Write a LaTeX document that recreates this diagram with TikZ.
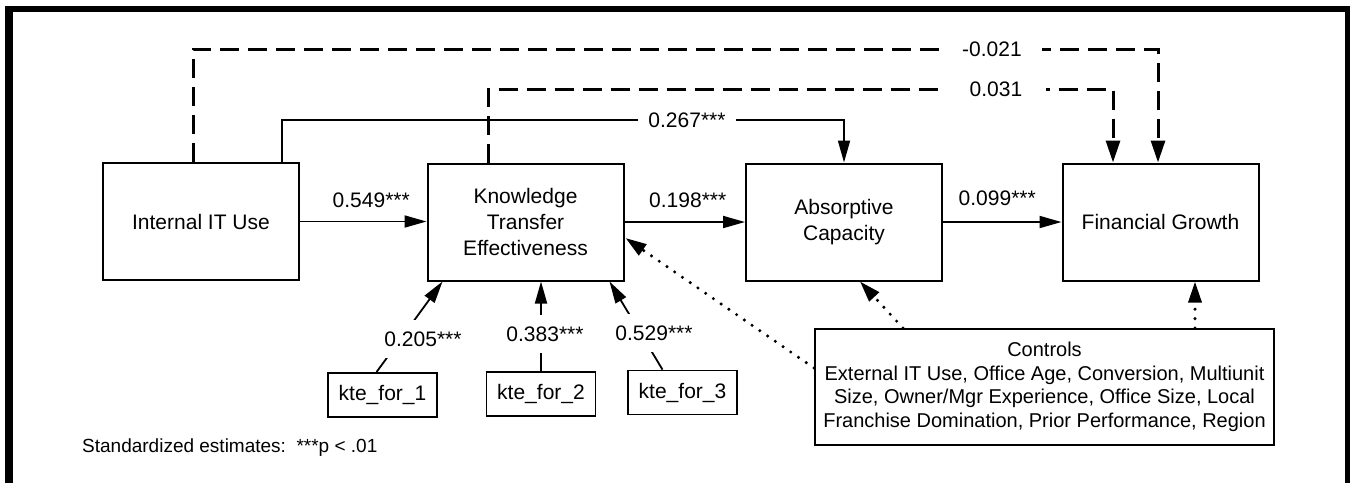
\documentclass[tikz,border=0pt]{standalone}
\usepackage{fontspec}
\setmainfont{Liberation Sans}
\usetikzlibrary{arrows.meta,calc}

\begin{document}
\begin{tikzpicture}[x=1pt,y=-1pt,
  box/.style={draw,line width=2pt,minimum width=196pt,minimum height=117pt,
    align=center,inner sep=0pt,font=\fontsize{21}{26}\selectfont},
  itembox/.style={draw,line width=1.8pt,minimum width=109pt,minimum height=44pt,
    inner sep=0pt,font=\fontsize{21}{24}\selectfont},
  ctrlbox/.style={draw,line width=2pt,minimum width=459pt,minimum height=116pt,
    align=center,inner sep=0pt,font=\fontsize{20}{23.5}\selectfont},
  coef/.style={font=\fontsize{21}{24}\selectfont,inner sep=0pt},
  gapcoef/.style={coef,fill=white,inner xsep=#1,inner ysep=12pt},
  gapcoef/.default=10pt,
  tip/.style={-{Triangle[length=22pt,width=12pt]}},
  solidarr/.style={line width=1.8pt,tip},
  dasharr/.style={line width=3pt,dash pattern=on 19pt off 9pt,
    -{Triangle[length=22pt,width=14pt]}},
  dotarr/.style={line width=3.4pt,line cap=round,dash pattern=on 0pt off 9.4pt,
    -{Triangle[length=21pt,width=13pt]}},
]
\useasboundingbox (0,0) rectangle (1350,483);

% frame
\fill (5,6) rectangle (1350,12);
\fill (5,6) rectangle (13,483);
\fill (1345,6) rectangle (1350,483);

% constructs
\node[box] (iit)  at (201,221.5)  {Internal IT Use};
\node[box] (kte)  at (525.5,222)  {Knowledge\\Transfer\\Effectiveness};
\node[box] (ac)   at (844,222)    {Absorptive\\Capacity};
\node[box] (fg)   at (1160.5,222) {Financial Growth};

% formative indicators
\node[itembox] (k1) at (382.5,395)  {kte\_for\_1};
\node[itembox] (k2) at (541,394)    {kte\_for\_2};
\node[itembox] (k3) at (682.5,392.5){kte\_for\_3};

% control variables
\node[ctrlbox] (ctrl) at (1044.5,387)
  {Controls\\External IT Use, Office Age, Conversion, Multiunit\\
   Size, Owner/Mgr Experience, Office Size, Local\\
   Franchise Domination, Prior Performance, Region};

% main chain
\draw[solidarr] (iit.east) -- (iit.east -| kte.west)
  node[coef,midway,above=13pt,xshift=8pt] (l1) {0.549***};
\draw[solidarr] (kte.east) -- (kte.east -| ac.west)
  node[coef,midway,above=13pt,xshift=3pt] (l2) {0.198***};
\draw[solidarr] (ac.east) -- (ac.east -| fg.west)
  node[coef,midway,above=15pt,xshift=-5pt] (l3) {0.099***};

% direct path IIT -> AC
\coordinate (a1) at (282,120);
\draw[solidarr] (a1 |- iit.north) -- (a1) -- (a1 -| ac.north) -- (ac.north);
\node[gapcoef=10pt] (l4) at (687,120) {0.267***};

% non-significant paths to FG
\coordinate (b1) at (193,49);
\coordinate (b2) at (1158,49);
\draw[dasharr] (b1 |- iit.north) -- (b1) -- (b2) -- (b2 |- fg.north);
\node[gapcoef=20pt] (l5) at (992,49) {-0.021};

\coordinate (c1) at (488,89);
\coordinate (c2) at (1113,89);
\draw[dasharr] (c1 |- kte.north) -- (c1) -- (c2) -- (c2 |- fg.north);
\node[gapcoef=24pt] (l6) at (996,89) {0.031};

% indicator weights
\draw[solidarr] ($(k1.north)+(-6,0)$) -- ($(kte.south west)+(16,0)$);
\node[gapcoef=6pt] (w1) at (423,339) {0.205***};
\draw[solidarr] (k2.north) -- (k2.north |- kte.south);
\node[gapcoef=4pt] (w2) at (545,334) {0.383***};
\draw[solidarr] ($(k3.north)+(-20,0)$) -- ($(kte.south east)+(-15,0)$);
\node[gapcoef=4pt] (w3) at (654,333) {0.529***};

% control effects
\draw[dotarr] ($(ctrl.west)+(0,-19)$) -- ($(kte.east)+(1,16)$);
\draw[dotarr] ($(ctrl.north)+(-141.5,0)$) -- ($(ac.south)+(16,0)$);
\coordinate (fgin) at ($(fg.south)+(34.5,0)$);
\draw[dotarr] (fgin |- ctrl.north) -- (fgin);

% note
\node[anchor=west,inner sep=0pt,font=\fontsize{19}{22}\selectfont] (note) at (82,448)
  {Standardized estimates:\ \ ***p < .01};
\end{tikzpicture}
\end{document}
